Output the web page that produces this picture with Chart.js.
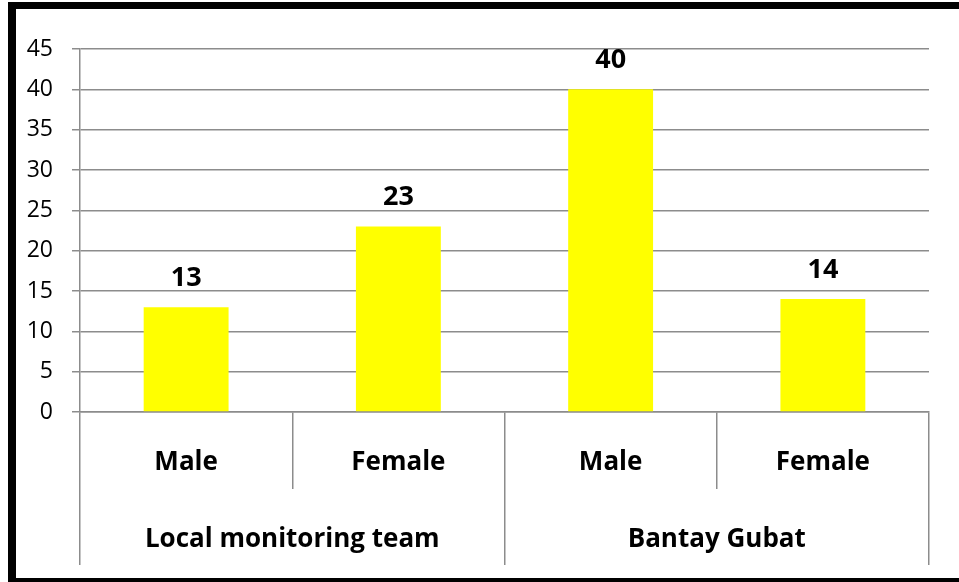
<!DOCTYPE html>
<html>
<head>
<meta charset="utf-8">
<script src="https://cdn.jsdelivr.net/npm/chart.js@4/dist/chart.umd.min.js"></script>
<style>
    html, body { margin: 0; padding: 0; background: #fff; overflow: hidden; }
    .frame {
        position: absolute;
        left: 8px;
        top: 2px;
        width: 943px;
        height: 569px;
        border: 7px solid #000;
        border-left-width: 8px;
        background: #fff;
    }
    canvas { display: block; }
</style>
</head>
<body>
<div class="frame">
    <canvas id="chart" width="943" height="569"></canvas>
</div>
<script>
const categories = ['Male', 'Female', 'Male', 'Female'];
const groups = ['Local monitoring team', 'Bantay Gubat'];
const values = [13, 23, 40, 14];
const yTicks = { min: 0, max: 45, step: 5 };

const FONT = "'Open Sans', 'Liberation Sans', sans-serif";
const gridGray = '#8c8c8c';

// draws the bold value above each bar
const valueLabels = {
    id: 'valueLabels',
    afterDatasetsDraw(chart) {
        const ctx = chart.ctx;
        const meta = chart.getDatasetMeta(0);
        ctx.save();
        ctx.font = 'bold 27px ' + FONT;
        ctx.fillStyle = '#000';
        ctx.textAlign = 'center';
        ctx.textBaseline = 'middle';
        meta.data.forEach((bar, i) => {
            ctx.fillText(String(values[i]), bar.x, bar.y - 29);
        });
        ctx.restore();
    }
};

new Chart('chart', {
    type: 'bar',
    data: {
        labels: categories,
        datasets: [{
            data: values,
            backgroundColor: '#ffff00',
            borderWidth: 0,
            barPercentage: 0.4,
            categoryPercentage: 1
        }]
    },
    options: {
        responsive: false,
        animation: false,
        layout: { padding: { top: 40, right: 30, left: 0, bottom: 0 } },
        plugins: {
            legend: { display: false },
            tooltip: { enabled: false }
        },
        scales: {
            y: {
                min: yTicks.min,
                max: yTicks.max,
                ticks: {
                    stepSize: yTicks.step,
                    color: '#000',
                    padding: 19,
                    font: { family: FONT, size: 23 }
                },
                grid: { color: gridGray, lineWidth: 1.5, tickLength: 8 },
                border: { color: gridGray, width: 1.5 },
                afterFit(scale) { scale.width = 64; }
            },
            x: {
                weight: 0,
                position: 'bottom',
                offset: true,
                ticks: {
                    color: '#000',
                    autoSkip: false,
                    maxRotation: 0,
                    padding: -42,
                    font: { family: FONT, size: 26, weight: 'bold' }
                },
                grid: {
                    offset: true,
                    drawOnChartArea: false,
                    color: gridGray,
                    lineWidth: 1.5,
                    tickLength: 77
                },
                border: { color: gridGray, width: 1.5 },
                afterFit(scale) { scale.height = 77; }
            },
            x2: {
                type: 'category',
                weight: 1,
                position: 'bottom',
                labels: groups,
                offset: true,
                ticks: {
                    color: '#000',
                    autoSkip: false,
                    maxRotation: 0,
                    padding: -41,
                    font: { family: FONT, size: 26, weight: 'bold' }
                },
                grid: {
                    offset: true,
                    drawOnChartArea: false,
                    color: gridGray,
                    lineWidth: 1.5,
                    tickLength: 76
                },
                border: { display: false },
                afterFit(scale) { scale.height = 89; }
            }
        }
    },
    plugins: [valueLabels]
});
</script>
</body>
</html>
